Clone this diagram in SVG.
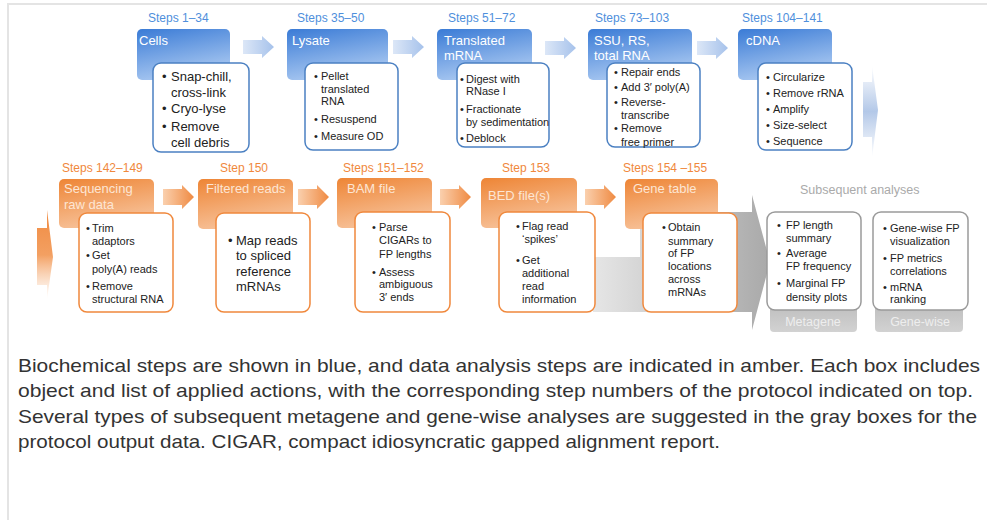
<svg xmlns="http://www.w3.org/2000/svg" width="987" height="520" viewBox="0 0 987 520">
<defs>
<linearGradient id="gBlue" x1="0" y1="0" x2="0.35" y2="1"><stop offset="0" stop-color="#3a7bd6"/><stop offset="1" stop-color="#a9c8f1"/></linearGradient>
<linearGradient id="gOrange" x1="0" y1="0" x2="0.35" y2="1"><stop offset="0" stop-color="#ee8535"/><stop offset="1" stop-color="#f7c29a"/></linearGradient>
<linearGradient id="gBlueArr" x1="0" y1="0" x2="1" y2="0"><stop offset="0" stop-color="#dce7f7"/><stop offset="1" stop-color="#a6c2eb"/></linearGradient>
<linearGradient id="gOrArr" x1="0" y1="0" x2="1" y2="0"><stop offset="0" stop-color="#fad0ae"/><stop offset="1" stop-color="#ef8a42"/></linearGradient>
<linearGradient id="gGray" x1="0" y1="0" x2="1" y2="0"><stop offset="0" stop-color="#e6e6e6"/><stop offset="1" stop-color="#a9a9a9"/></linearGradient>
<linearGradient id="gGrayLbl" x1="0" y1="0" x2="0" y2="1"><stop offset="0" stop-color="#b4b4b4"/><stop offset="1" stop-color="#d2d2d2"/></linearGradient>
<linearGradient id="gEndBlue" x1="0" y1="0" x2="0" y2="1"><stop offset="0" stop-color="#b8cbe9" stop-opacity="0"/><stop offset="0.5" stop-color="#b3c8e8"/><stop offset="1" stop-color="#b8cbe9" stop-opacity="0"/></linearGradient>
<linearGradient id="gStartOr" x1="0" y1="0" x2="0" y2="1"><stop offset="0" stop-color="#f08a40"/><stop offset="0.5" stop-color="#f3a062"/><stop offset="1" stop-color="#f8c9a5" stop-opacity="0"/></linearGradient>
<path id="arr" d="M0,-7 H19 V-11 L31,0 L19,11 V7 H0 Z"/>
</defs>
<style>
text{font-family:"Liberation Sans",Arial,sans-serif}
.stB{font-size:12px;fill:#4f8fdc}
.stO{font-size:12px;fill:#f0883c}
.ttl{font-size:13px;fill:#ffffff}
.ttlO{font-size:13px;fill:#fde6d4}
.dB{fill:#ffffff;stroke:#4b80c2;stroke-width:1.5}
.dO{fill:#ffffff;stroke:#f0883c;stroke-width:1.5}
.dG{fill:#ffffff;stroke:#9a9a9a;stroke-width:1.5}
.t{font-size:11px;fill:#222}
.tl{font-size:13px;fill:#222}
.sub{font-size:12.5px;fill:#aaaaaa}
.lbl{font-size:12.5px;fill:#eeeeee}
.cap{font-family:"Liberation Sans Narrow","Liberation Sans",Arial,sans-serif;font-size:18.5px;fill:#333}
</style>
<rect width="987" height="520" fill="#ffffff"/>
<line x1="7" y1="4" x2="987" y2="4" stroke="#e4e4e4" stroke-width="2"/>
<line x1="8" y1="3" x2="8" y2="520" stroke="#e4e4e4" stroke-width="2"/>

<g id="connectors">
<use href="#arr" x="243" y="47" fill="url(#gBlueArr)"/>
<use href="#arr" x="393" y="47" fill="url(#gBlueArr)"/>
<use href="#arr" x="545" y="48" fill="url(#gBlueArr)"/>
<use href="#arr" x="697" y="48" fill="url(#gBlueArr)"/>
<path d="M863,82 H872 V65 L878,110 L872,158 V137 H863 Z" fill="url(#gEndBlue)"/>
<path d="M37,228 H47 V210 L53,257 L47,300 V285 H37 Z" fill="url(#gStartOr)"/>
<g transform="translate(163,197)"><path d="M0,-8 H19 V-12 L31,0 L19,12 V8 H0 Z" fill="url(#gOrArr)"/></g>
<g transform="translate(298,197)"><path d="M0,-8 H19 V-12 L31,0 L19,12 V8 H0 Z" fill="url(#gOrArr)"/></g>
<g transform="translate(440,197)"><path d="M0,-8 H19 V-12 L31,0 L19,12 V8 H0 Z" fill="url(#gOrArr)"/></g>
<g transform="translate(585,197)"><path d="M0,-8 H19 V-12 L31,0 L19,12 V8 H0 Z" fill="url(#gOrArr)"/></g>
<path d="M640,212 H752 V195 L770,262 L752,330 V312 H593 V257 H640 Z" fill="url(#gGray)"/>
</g>

<g id="cells">
<text class="stB" x="148" y="22">Steps 1–34</text>
<rect x="137" y="29" width="93" height="51" rx="5" fill="url(#gBlue)"/>
<text class="ttl" x="139" y="45">Cells</text>
<rect class="dB" x="153" y="63" width="96" height="89" rx="8"/>
<text class="tl" x="162" y="81">•</text><text class="tl" x="171" y="81">Snap-chill,</text>
<text class="tl" x="171" y="97">cross-link</text>
<text class="tl" x="162" y="113">•</text><text class="tl" x="171" y="113">Cryo-lyse</text>
<text class="tl" x="162" y="131">•</text><text class="tl" x="171" y="131">Remove</text>
<text class="tl" x="171" y="147">cell debris</text>
</g>

<g id="lysate">
<text class="stB" x="297" y="22">Steps 35–50</text>
<rect x="287" y="29" width="101" height="51" rx="5" fill="url(#gBlue)"/>
<text class="ttl" x="292" y="45">Lysate</text>
<rect class="dB" x="305" y="63" width="93" height="87" rx="8"/>
<text class="t" x="314" y="80">•</text><text class="t" x="321" y="80">Pellet</text>
<text class="t" x="321" y="93">translated</text>
<text class="t" x="321" y="105">RNA</text>
<text class="t" x="314" y="123">•</text><text class="t" x="321" y="123">Resuspend</text>
<text class="t" x="314" y="140">•</text><text class="t" x="321" y="140">Measure OD</text>
</g>

<g id="translated">
<text class="stB" x="448" y="22">Steps 51–72</text>
<rect x="437" y="29" width="95" height="51" rx="5" fill="url(#gBlue)"/>
<text class="ttl" x="444" y="45">Translated</text>
<text class="ttl" x="444" y="60">mRNA</text>
<rect class="dB" x="457" y="63" width="92" height="84" rx="8"/>
<text class="t" x="460" y="83">•</text><text class="t" x="466" y="83">Digest with</text>
<text class="t" x="466" y="95">RNase I</text>
<text class="t" x="460" y="113">•</text><text class="t" x="466" y="113">Fractionate</text>
<text class="t" x="466" y="126">by sedimentation</text>
<text class="t" x="460" y="142">•</text><text class="t" x="466" y="142">Deblock</text>
</g>

<g id="ssu">
<text class="stB" x="595" y="22">Steps 73–103</text>
<rect x="588" y="29" width="104" height="51" rx="5" fill="url(#gBlue)"/>
<text class="ttl" x="594" y="45">SSU, RS,</text>
<text class="ttl" x="594" y="60">total RNA</text>
<rect class="dB" x="607" y="63" width="93" height="84" rx="8"/>
<text class="t" x="614" y="76">•</text><text class="t" x="621" y="76">Repair ends</text>
<text class="t" x="614" y="91">•</text><text class="t" x="621" y="91">Add 3′ poly(A)</text>
<text class="t" x="614" y="106">•</text><text class="t" x="621" y="106">Reverse-</text>
<text class="t" x="621" y="119">transcribe</text>
<text class="t" x="614" y="132">•</text><text class="t" x="621" y="132">Remove</text>
<text class="t" x="621" y="146">free primer</text>
</g>

<g id="cdna">
<text class="stB" x="742" y="22">Steps 104–141</text>
<rect x="738" y="29" width="94" height="51" rx="5" fill="url(#gBlue)"/>
<text class="ttl" x="746" y="45">cDNA</text>
<rect class="dB" x="758" y="63" width="94" height="87" rx="8"/>
<text class="t" x="766" y="81">•</text><text class="t" x="773" y="81">Circularize</text>
<text class="t" x="766" y="97">•</text><text class="t" x="773" y="97">Remove rRNA</text>
<text class="t" x="766" y="113">•</text><text class="t" x="773" y="113">Amplify</text>
<text class="t" x="766" y="129">•</text><text class="t" x="773" y="129">Size-select</text>
<text class="t" x="766" y="145">•</text><text class="t" x="773" y="145">Sequence</text>
</g>

<g id="sequencing">
<text class="stO" x="62" y="172">Steps 142–149</text>
<rect x="59" y="179" width="95" height="49" rx="5" fill="url(#gOrange)"/>
<text class="ttlO" x="64" y="193">Sequencing</text>
<text class="ttlO" x="64" y="209">raw data</text>
<rect class="dO" x="79" y="213" width="94" height="99" rx="8"/>
<text class="t" x="86" y="232">•</text><text class="t" x="92" y="232">Trim</text>
<text class="t" x="92" y="245">adaptors</text>
<text class="t" x="86" y="259">•</text><text class="t" x="92" y="259">Get</text>
<text class="t" x="92" y="273">poly(A) reads</text>
<text class="t" x="86" y="290">•</text><text class="t" x="92" y="290">Remove</text>
<text class="t" x="92" y="303">structural RNA</text>
</g>

<g id="filtered">
<text class="stO" x="220" y="172">Step 150</text>
<rect x="198" y="179" width="95" height="50" rx="5" fill="url(#gOrange)"/>
<text class="ttlO" x="206" y="193">Filtered reads</text>
<rect class="dO" x="216" y="213" width="94" height="99" rx="8"/>
<text class="tl" x="228" y="245">•</text><text class="tl" x="236" y="245">Map reads</text>
<text class="tl" x="236" y="260">to spliced</text>
<text class="tl" x="236" y="276">reference</text>
<text class="tl" x="236" y="291">mRNAs</text>
</g>

<g id="bam">
<text class="stO" x="343" y="172">Steps 151–152</text>
<rect x="337" y="178" width="95" height="50" rx="5" fill="url(#gOrange)"/>
<text class="ttlO" x="347" y="193">BAM file</text>
<rect class="dO" x="355" y="212" width="95" height="100" rx="8"/>
<text class="t" x="372" y="231">•</text><text class="t" x="379" y="231">Parse</text>
<text class="t" x="379" y="244">CIGARs to</text>
<text class="t" x="379" y="258">FP lengths</text>
<text class="t" x="372" y="276">•</text><text class="t" x="379" y="276">Assess</text>
<text class="t" x="379" y="288">ambiguous</text>
<text class="t" x="379" y="301">3′ ends</text>
</g>

<g id="bed">
<text class="stO" x="502" y="172">Step 153</text>
<rect x="481" y="178" width="96" height="50" rx="5" fill="url(#gOrange)"/>
<text class="ttlO" x="488" y="200">BED file(s)</text>
<rect class="dO" x="499" y="212" width="96" height="100" rx="8"/>
<text class="t" x="516" y="230">•</text><text class="t" x="522" y="230">Flag read</text>
<text class="t" x="522" y="243">‘spikes’</text>
<text class="t" x="516" y="264">•</text><text class="t" x="522" y="264">Get</text>
<text class="t" x="522" y="277">additional</text>
<text class="t" x="522" y="290">read</text>
<text class="t" x="522" y="303">information</text>
</g>

<g id="genetable">
<text class="stO" x="623" y="172">Steps 154 –155</text>
<rect x="625" y="179" width="93" height="50" rx="5" fill="url(#gOrange)"/>
<text class="ttlO" x="633" y="193">Gene table</text>
<rect class="dO" x="643" y="213" width="94" height="99" rx="8"/>
<text class="t" x="662" y="231">•</text><text class="t" x="668" y="231">Obtain</text>
<text class="t" x="668" y="245">summary</text>
<text class="t" x="668" y="257">of FP</text>
<text class="t" x="668" y="270">locations</text>
<text class="t" x="668" y="283">across</text>
<text class="t" x="668" y="296">mRNAs</text>
</g>

<text class="sub" x="800" y="194">Subsequent analyses</text>

<g id="metagene">
<rect x="770" y="290" width="87" height="42" rx="4" fill="url(#gGrayLbl)"/>
<text class="lbl" x="813" y="326" text-anchor="middle">Metagene</text>
<rect class="dG" x="767" y="212" width="94" height="98" rx="8"/>
<text class="t" x="777" y="229">•</text><text class="t" x="786" y="229">FP length</text>
<text class="t" x="786" y="242">summary</text>
<text class="t" x="777" y="257">•</text><text class="t" x="786" y="257">Average</text>
<text class="t" x="786" y="270">FP frequency</text>
<text class="t" x="777" y="287">•</text><text class="t" x="786" y="287">Marginal FP</text>
<text class="t" x="786" y="301">density plots</text>
</g>

<g id="genewise">
<rect x="875" y="290" width="88" height="42" rx="4" fill="url(#gGrayLbl)"/>
<text class="lbl" x="920" y="326" text-anchor="middle">Gene-wise</text>
<rect class="dG" x="873" y="212" width="95" height="98" rx="8"/>
<text class="t" x="883" y="232">•</text><text class="t" x="890" y="232">Gene-wise FP</text>
<text class="t" x="890" y="245">visualization</text>
<text class="t" x="883" y="262">•</text><text class="t" x="890" y="262">FP metrics</text>
<text class="t" x="890" y="275">correlations</text>
<text class="t" x="883" y="291">•</text><text class="t" x="890" y="291">mRNA</text>
<text class="t" x="890" y="303">ranking</text>
</g>

<g id="caption">
<text class="cap" x="18" y="372" textLength="962" lengthAdjust="spacingAndGlyphs">Biochemical steps are shown in blue, and data analysis steps are indicated in amber. Each box includes</text>
<text class="cap" x="18" y="397" textLength="955" lengthAdjust="spacingAndGlyphs">object and list of applied actions, with the corresponding step numbers of the protocol indicated on top.</text>
<text class="cap" x="18" y="423" textLength="959" lengthAdjust="spacingAndGlyphs">Several types of subsequent metagene and gene-wise analyses are suggested in the gray boxes for the</text>
<text class="cap" x="18" y="448" textLength="702" lengthAdjust="spacingAndGlyphs">protocol output data. CIGAR, compact idiosyncratic gapped alignment report.</text>
</g>
</svg>
